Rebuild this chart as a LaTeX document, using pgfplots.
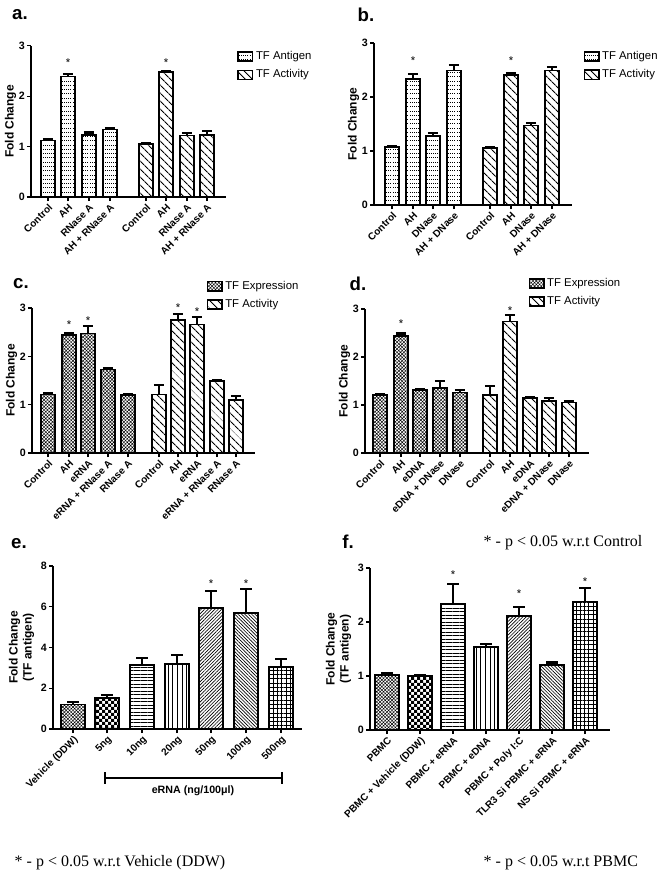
\documentclass[border=0pt]{standalone}
\usepackage{fontspec}
\setmainfont{Liberation Sans}
\newfontfamily\serifft{Liberation Serif}
\usepackage{pgfplots}
\pgfplotsset{compat=1.18}
\usetikzlibrary{patterns,patterns.meta}
\pgfdeclarepatternformonly{antigen}{\pgfqpoint{-0.5pt}{-0.5pt}}{\pgfqpoint{2pt}{4pt}}{\pgfqpoint{1.6pt}{3.2pt}}{%
  \pgfpathrectangle{\pgfqpoint{0pt}{0pt}}{\pgfqpoint{0.7pt}{0.55pt}}\pgfusepath{fill}}
\pgfdeclarepatternformonly{checkers}{\pgfqpoint{-0.1pt}{-0.1pt}}{\pgfqpoint{4.6pt}{4.6pt}}{\pgfqpoint{4.5pt}{4.5pt}}{%
  \pgfpathrectangle{\pgfqpoint{0pt}{0pt}}{\pgfqpoint{2.25pt}{2.25pt}}%
  \pgfpathrectangle{\pgfqpoint{2.25pt}{2.25pt}}{\pgfqpoint{2.25pt}{2.25pt}}\pgfusepath{fill}}
\tikzset{starnode/.style={font=\fontsize{8.5}{9}\selectfont}}
\pgfplotsset{
  panel/.style={
    scale only axis, clip=false,
    axis x line*=bottom, axis y line*=left,
    axis line style={line width=1pt},
    tick style={line width=0.8pt, black},
    tick align=outside, major tick length=3pt,
    ymin=0,
    ybar, bar shift=0pt,
    /pgf/number format/assume math mode=true,
    yticklabel style={font=\bfseries\fontsize{8}{9}\selectfont, inner sep=1.5pt},
    xticklabel style={font=\bfseries\fontsize{7.5}{8}\selectfont, rotate=45, anchor=north east, inner sep=1pt},
    ylabel style={font=\bfseries\fontsize{9}{10.5}\selectfont, align=center},
    every axis plot/.append style={draw=black, line width=1.3pt},
    error bars/y dir=plus, error bars/y explicit,
    error bars/error bar style={line width=1.2pt, solid},
    error bars/error mark options={rotate=90, mark size=3.8pt, line width=1.6pt},
    legend image code/.code={\draw[#1, line width=1pt] (0pt,-3.4pt) rectangle (11pt,3.4pt);},
    legend style={draw=none, fill=none, font=\fontsize{8.5}{10}\selectfont, anchor=north west, row sep=2pt, inner sep=1pt},
    legend cell align=left,
  },
}
\begin{document}
\begin{tikzpicture}
\path[use as bounding box] (0,0) rectangle (498pt,-656.25pt);
% ---------- a ----------
\begin{axis}[panel, at={(23.25pt,-147.75pt)}, anchor=south west,
  width=146.25pt, height=113.5pt, xmin=31, xmax=226, ymax=3, ytick={0,1,2,3},
  bar width=14,
  xtick={48,68,89,110,146,166,187,207},
  xticklabels={Control,AH,RNase A,AH + RNase A,Control,AH,RNase A,AH + RNase A},
  ylabel={Fold Change}, ylabel shift=-3pt,
  legend style={at={(axis description cs:1.05,0.99)}}]
\addplot[pattern=antigen] coordinates {(48,1.12)+-(0,0.03) (68,2.39)+-(0,0.05) (89,1.23)+-(0,0.05) (110,1.34)+-(0,0.03)};
\addlegendentry{TF Antigen}
\addplot[pattern={Lines[angle=-45,distance=4pt,line width=0.8pt]}] coordinates {(146,1.05)+-(0,0.02) (166,2.48)+-(0,0.02) (187,1.22)+-(0,0.05) (207,1.23)+-(0,0.07)};
\addlegendentry{TF Activity}
\node[starnode] at (axis cs:68,2.66) {*};
\node[starnode] at (axis cs:166,2.66) {*};
\end{axis}
% ---------- b ----------
\begin{axis}[panel, at={(280.5pt,-153.75pt)}, anchor=south west,
  width=148.5pt, height=121.5pt, xmin=374, xmax=572, ymax=3, ytick={0,1,2,3},
  bar width=14,
  xtick={392,413,433,454,490,511,531,552},
  xticklabels={Control,AH,DNase,AH + DNase,Control,AH,DNase,AH + DNase},
  ylabel={Fold Change}, ylabel shift=-3pt,
  legend style={at={(axis description cs:1.05,0.975)}}]
\addplot[pattern=antigen] coordinates {(392,1.07)+-(0,0.03) (413,2.33)+-(0,0.1) (433,1.28)+-(0,0.05) (454,2.49)+-(0,0.1)};
\addlegendentry{TF Antigen}
\addplot[pattern={Lines[angle=-45,distance=4pt,line width=0.8pt]}] coordinates {(490,1.05)+-(0,0.02) (511,2.41)+-(0,0.04) (531,1.47)+-(0,0.05) (552,2.49)+-(0,0.07)};
\addlegendentry{TF Activity}
\node[starnode] at (axis cs:413,2.67) {*};
\node[starnode] at (axis cs:511,2.67) {*};
\end{axis}
% ---------- c ----------
\begin{axis}[panel, at={(24pt,-339.75pt)}, anchor=south west,
  width=167.25pt, height=108.75pt, xmin=32, xmax=255, ymax=3, ytick={0,1,2,3},
  bar width=14,
  xtick={48,69,88,108,128,159,178,197,217,236},
  xticklabels={Control,AH,eRNA,eRNA + RNase A,RNase A,Control,AH,eRNA,eRNA + RNase A,RNase A},
  ylabel={Fold Change}, ylabel shift=-3pt,
  legend style={at={(axis description cs:0.776,1.214)}}]
\addplot[pattern={Hatch[angle=45,distance=1.8pt,line width=0.35pt]}] coordinates {(48,1.21)+-(0,0.02) (69,2.44)+-(0,0.05) (88,2.47)+-(0,0.16) (108,1.73)+-(0,0.02) (128,1.20)+-(0,0.02)};
\addlegendentry{TF Expression}
\addplot[pattern={Lines[angle=-45,distance=4pt,line width=0.8pt]}] coordinates {(159,1.21)+-(0,0.19) (178,2.75)+-(0,0.12) (197,2.66)+-(0,0.16) (217,1.49)+-(0,0.02) (236,1.09)+-(0,0.09)};
\addlegendentry{TF Activity}
\node[starnode] at (axis cs:69,2.66) {*};
\node[starnode] at (axis cs:88,2.73) {*};
\node[starnode] at (axis cs:178,3.0) {*};
\node[starnode] at (axis cs:197,2.93) {*};
\end{axis}
% ---------- d ----------
\begin{axis}[panel, at={(273.75pt,-339.75pt)}, anchor=south west,
  width=168pt, height=108pt, xmin=365, xmax=589, ymax=3, ytick={0,1,2,3},
  bar width=14,
  xtick={380,401,420,440,460,490,510,530,549,569},
  xticklabels={Control,AH,eDNA,eDNA + DNase,DNase,Control,AH,eDNA,eDNA + DNase,DNase},
  ylabel={Fold Change}, ylabel shift=-3pt,
  legend style={at={(axis description cs:0.723,1.243)}}]
\addplot[pattern={Hatch[angle=45,distance=1.8pt,line width=0.35pt]}] coordinates {(380,1.21)+-(0,0.02) (401,2.44)+-(0,0.05) (420,1.31)+-(0,0.02) (440,1.35)+-(0,0.15) (460,1.26)+-(0,0.05)};
\addlegendentry{TF Expression}
\addplot[pattern={Lines[angle=-45,distance=4pt,line width=0.8pt]}] coordinates {(490,1.21)+-(0,0.19) (510,2.74)+-(0,0.13) (530,1.15)+-(0,0.01) (549,1.08)+-(0,0.06) (569,1.05)+-(0,0.03)};
\addlegendentry{TF Activity}
\node[starnode] at (axis cs:401,2.69) {*};
\node[starnode] at (axis cs:510,2.97) {*};
\end{axis}
% ---------- e ----------
\begin{axis}[panel, at={(39.75pt,-546.75pt)}, anchor=south west,
  width=186.75pt, height=122.25pt, xmin=53, xmax=302, ymax=8, ytick={0,2,4,6,8},
  bar width=24,
  error bars/error mark options={rotate=90, mark size=4.5pt, line width=1.6pt},
  xtick={73,107,142,177,211,246,281},
  xticklabels={Vehicle (DDW),5ng,10ng,20ng,50ng,100ng,500ng},
  ylabel={Fold Change\\(TF antigen)}]
\addplot[pattern={Hatch[angle=45,distance=1.8pt,line width=0.35pt]}] coordinates {(73,1.2)+-(0,0.12)};
\addplot[pattern=checkers] coordinates {(107,1.53)+-(0,0.13)};
\addplot[pattern={Lines[angle=0,distance=2.6pt,line width=0.6pt]}] coordinates {(142,3.13)+-(0,0.36)};
\addplot[pattern={Lines[angle=90,distance=3.5pt,line width=0.6pt]}] coordinates {(177,3.19)+-(0,0.44)};
\addplot[pattern={Lines[angle=45,distance=1.8pt,line width=0.5pt]}] coordinates {(211,5.94)+-(0,0.82)};
\addplot[pattern={Lines[angle=-45,distance=1.8pt,line width=0.5pt]}] coordinates {(246,5.7)+-(0,1.16)};
\addplot[pattern={Hatch[angle=0,distance=3.2pt,line width=0.5pt]}] coordinates {(281,3.03)+-(0,0.42)};
\node[starnode] at (axis cs:211,7.15) {*};
\node[starnode] at (axis cs:246,7.15) {*};
\end{axis}
% ---------- f ----------
\begin{axis}[panel, at={(277.5pt,-547.5pt)}, anchor=south west,
  width=180pt, height=121.5pt, xmin=370, xmax=610, ymax=3, ytick={0,1,2,3},
  bar width=24,
  error bars/error mark options={rotate=90, mark size=4.5pt, line width=1.6pt},
  xtick={387,420,453,486,519,552,585},
  xticklabels={PBMC,PBMC + Vehicle (DDW),PBMC + eRNA,PBMC + eDNA,PBMC + Poly I:C,TLR3 Si PBMC + eRNA,NS Si PBMC + eRNA},
  ylabel={Fold Change\\(TF antigen)}]
\addplot[pattern={Hatch[angle=45,distance=1.8pt,line width=0.35pt]}] coordinates {(387,1.02)+-(0,0.04)};
\addplot[pattern=checkers] coordinates {(420,1.0)+-(0,0.01)};
\addplot[pattern={Lines[angle=0,distance=2.6pt,line width=0.6pt]}] coordinates {(453,2.33)+-(0,0.38)};
\addplot[pattern={Lines[angle=90,distance=3.5pt,line width=0.6pt]}] coordinates {(486,1.54)+-(0,0.05)};
\addplot[pattern={Lines[angle=45,distance=1.8pt,line width=0.5pt]}] coordinates {(519,2.11)+-(0,0.17)};
\addplot[pattern={Lines[angle=-45,distance=1.8pt,line width=0.5pt]}] coordinates {(552,1.21)+-(0,0.04)};
\addplot[pattern={Hatch[angle=0,distance=3.2pt,line width=0.5pt]}] coordinates {(585,2.38)+-(0,0.25)};
\node[starnode] at (axis cs:453,2.87) {*};
\node[starnode] at (axis cs:519,2.53) {*};
\node[starnode] at (axis cs:585,2.75) {*};
\end{axis}
% ---------- annotations ----------
\begin{scope}[x=0.75pt,y=-0.75pt]
\node[font=\bfseries\fontsize{14}{16}\selectfont] at (20,15) {a.};
\node[font=\bfseries\fontsize{14}{16}\selectfont] at (366,15) {b.};
\node[font=\bfseries\fontsize{14}{16}\selectfont] at (21,284) {c.};
\node[font=\bfseries\fontsize{14}{16}\selectfont] at (358,284) {d.};
\node[font=\bfseries\fontsize{14}{16}\selectfont] at (19,544) {e.};
\node[font=\bfseries\fontsize{14}{16}\selectfont] at (348,542) {f.};
\draw[line width=1.2pt] (105,778) -- (282,778);
\draw[line width=1.2pt] (105,772) -- (105,784);
\draw[line width=1.2pt] (282,772) -- (282,784);
\node[font=\bfseries\fontsize{8}{9}\selectfont] at (193,791) {eRNA (ng/100μl)};
\node[font=\serifft\fontsize{12}{14}\selectfont, anchor=west] at (479,543) {* - p < 0.05 w.r.t Control};
\node[font=\serifft\fontsize{12}{14}\selectfont, anchor=west] at (10,863) {* - p < 0.05 w.r.t Vehicle (DDW)};
\node[font=\serifft\fontsize{12}{14}\selectfont, anchor=west] at (479,863) {* - p < 0.05 w.r.t PBMC};
\end{scope}
\end{tikzpicture}
\end{document}
